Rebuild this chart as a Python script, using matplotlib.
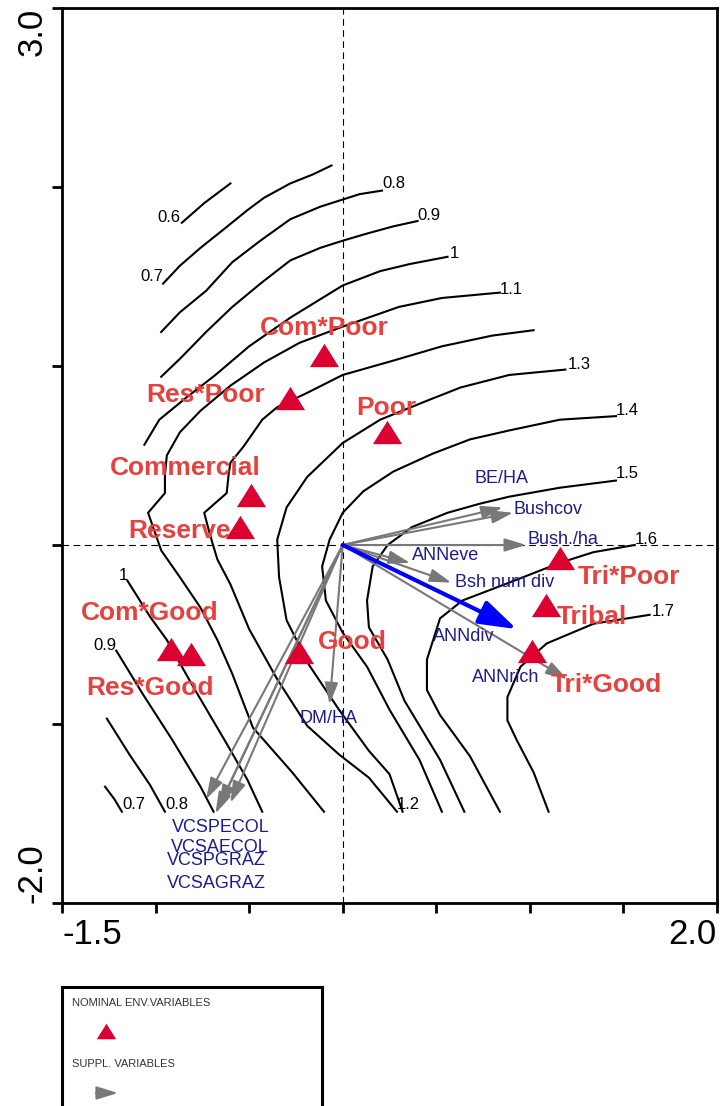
import matplotlib
matplotlib.use("Agg")
import matplotlib.pyplot as plt
import matplotlib.transforms as mtransforms

plt.rcParams['font.family'] = ['Liberation Sans', 'DejaVu Sans']

# ---- contour pieces of the fitted surface (ordination units) ----
c_06 = [(-0.86, 1.80), (-0.74, 1.91), (-0.60, 2.02)]
c_07_up = [(-0.96, 1.46), (-0.87, 1.56), (-0.76, 1.66), (-0.64, 1.76), (-0.51, 1.87),
           (-0.42, 1.94), (-0.28, 2.02), (-0.16, 2.07), (-0.06, 2.12)]
c_08_up = [(-0.97, 1.19), (-0.87, 1.30), (-0.73, 1.42), (-0.59, 1.58), (-0.44, 1.70),
           (-0.28, 1.82), (-0.12, 1.89), (0.00, 1.93), (0.09, 1.96), (0.21, 1.98)]
c_09_up = [(-0.97, 0.94), (-0.87, 1.04), (-0.73, 1.19), (-0.59, 1.33), (-0.44, 1.46),
           (-0.28, 1.59), (-0.12, 1.66), (0.00, 1.70), (0.13, 1.74), (0.27, 1.78), (0.40, 1.81)]
c_10_up = [(-1.06, 0.56), (-0.98, 0.70), (-0.84, 0.82), (-0.68, 0.95), (-0.50, 1.11),
           (-0.28, 1.27), (0.00, 1.45), (0.20, 1.53), (0.36, 1.57), (0.56, 1.61)]
c_11 = [(0.84, 1.41), (0.53, 1.38), (0.30, 1.33), (0.00, 1.22), (-0.23, 1.13), (-0.42, 1.02),
        (-0.60, 0.89), (-0.76, 0.75), (-0.87, 0.63), (-0.94, 0.50), (-0.95, 0.39), (-0.95, 0.29),
        (-1.04, 0.18), (-1.00, 0.06), (-0.97, -0.03), (-0.87, -0.18), (-0.76, -0.35),
        (-0.67, -0.53), (-0.59, -0.72), (-0.48, -1.02), (-0.27, -1.27), (-0.10, -1.49)]
c_12 = [(1.02, 1.20), (0.80, 1.17), (0.53, 1.11), (0.27, 1.03), (0.00, 0.95), (-0.19, 0.85),
        (-0.35, 0.77), (-0.43, 0.70), (-0.53, 0.55), (-0.60, 0.46), (-0.61, 0.39), (-0.62, 0.29),
        (-0.74, 0.18), (-0.71, 0.06), (-0.67, -0.08), (-0.60, -0.22), (-0.50, -0.47),
        (-0.35, -0.75), (-0.19, -1.01), (-0.02, -1.17), (0.14, -1.30), (0.29, -1.49)]
c_13 = [(1.19, 0.98), (0.89, 0.95), (0.63, 0.88), (0.46, 0.81), (0.20, 0.70), (0.00, 0.57),
        (-0.19, 0.38), (-0.30, 0.21), (-0.35, 0.03), (-0.34, -0.18), (-0.30, -0.42),
        (-0.18, -0.67), (-0.02, -0.92), (0.14, -1.15), (0.25, -1.28), (0.32, -1.49)]
c_14 = [(1.46, 0.72), (1.16, 0.70), (0.89, 0.64), (0.68, 0.59), (0.48, 0.51), (0.27, 0.41),
        (0.11, 0.30), (0.00, 0.18), (-0.07, 0.03), (-0.11, -0.12), (-0.09, -0.31),
        (0.00, -0.49), (0.13, -0.68), (0.25, -0.92), (0.41, -1.20), (0.53, -1.49)]
c_15 = [(1.46, 0.36), (1.16, 0.32), (0.89, 0.27), (0.73, 0.23), (0.56, 0.18), (0.37, 0.10),
        (0.24, 0.00), (0.16, -0.12), (0.13, -0.31), (0.14, -0.46), (0.24, -0.64),
        (0.33, -0.87), (0.52, -1.20), (0.65, -1.49)]
c_16 = [(1.56, 0.00), (1.34, -0.04), (1.16, -0.10), (0.89, -0.21), (0.64, -0.31), (0.52, -0.41),
        (0.45, -0.64), (0.45, -0.81), (0.52, -0.95), (0.68, -1.18), (0.84, -1.49)]
c_17 = [(1.64, -0.39), (1.34, -0.44), (1.09, -0.55), (0.95, -0.68), (0.88, -0.85),
        (0.88, -0.98), (0.93, -1.09), (1.02, -1.27), (1.10, -1.49)]
c_10_low = [(-1.15, -0.20), (-1.03, -0.40), (-0.94, -0.53), (-0.80, -0.79), (-0.62, -1.11),
            (-0.51, -1.31), (-0.43, -1.49)]
c_09_low = [(-1.21, -0.59), (-1.07, -0.83), (-0.91, -1.09), (-0.76, -1.35), (-0.69, -1.49)]
c_08_low = [(-1.26, -0.97), (-1.14, -1.17), (-1.03, -1.34), (-0.95, -1.49)]
c_07_low = [(-1.27, -1.35), (-1.22, -1.42), (-1.18, -1.49)]

contours = [c_06, c_07_up, c_08_up, c_09_up, c_10_up, c_11, c_12, c_13, c_14, c_15,
            c_16, c_17, c_10_low, c_09_low, c_08_low, c_07_low]

# contour labels: (x, y, text, alignment)
contour_labels = [
    (-0.87, 1.83, "0.6", "right"), (-0.96, 1.50, "0.7", "right"),
    (0.21, 2.02, "0.8", "left"), (0.40, 1.84, "0.9", "left"), (0.57, 1.63, "1", "left"),
    (0.84, 1.43, "1.1", "left"), (1.20, 1.01, "1.3", "left"), (1.46, 0.75, "1.4", "left"),
    (1.46, 0.40, "1.5", "left"), (1.56, 0.03, "1.6", "left"), (1.65, -0.37, "1.7", "left"),
    (0.29, -1.45, "1.2", "left"), (-0.95, -1.45, "0.8", "left"), (-1.18, -1.45, "0.7", "left"),
    (-1.15, -0.17, "1", "right"), (-1.21, -0.56, "0.9", "right"),
]

# ---- nominal environmental variables (centroids) ----
nom_names = ["Com*Poor", "Res*Poor", "Poor", "Commercial", "Reserve", "Com*Good",
             "Res*Good", "Good", "Tri*Poor", "Tribal", "Tri*Good"]
nom_x = [-0.10, -0.28, 0.235, -0.49, -0.55, -0.92, -0.81, -0.235, 1.16, 1.085, 1.01]
nom_y = [1.06, 0.82, 0.63, 0.28, 0.10, -0.58, -0.61, -0.60, -0.07, -0.335, -0.59]
nom_lab_x = [-0.10, -0.73, 0.235, -0.84, -0.87, -1.03, -1.03, 0.05, 1.53, 1.33, 1.41]
nom_lab_y = [1.21, 0.84, 0.765, 0.43, 0.08, -0.38, -0.80, -0.54, -0.18, -0.40, -0.78]

# ---- supplementary variables (arrows) ----
sup_names = ["BE/HA", "Bushcov", "Bush./ha", "ANNeve", "Bsh num div", "ANNrich", "DM/HA",
             "VCSPECOL", "VCSAECOL", "VCSPGRAZ", "VCSAGRAZ"]
sup_x = [0.855, 0.91, 0.98, 0.36, 0.58, 1.20, -0.07, -0.73, -0.68, -0.66, -0.60]
sup_y = [0.21, 0.18, 0.00, -0.10, -0.21, -0.75, -0.89, -1.42, -1.50, -1.46, -1.44]
sup_lab_x = [0.85, 0.91, 0.99, 0.37, 0.60, 0.69, -0.23, -0.91, -0.92, -0.94, -0.94]
sup_lab_y = [0.37, 0.20, 0.03, -0.06, -0.21, -0.74, -0.97, -1.58, -1.69, -1.76, -1.89]

# highlighted variable
div_name = "ANNdiv"
div_x, div_y = 0.93, -0.47
div_lab_x, div_lab_y = 0.48, -0.51

RED_TXT = "#E5413E"
RED_TRI = "#DC0030"
GREY = "#787878"
NAVY = "#1C1C8C"
tri = [(-1, -0.8), (1, -0.8), (0, 0.8)]

fig = plt.figure(figsize=(7.2, 11.06), dpi=100)
ax = fig.add_axes([62 / 720, 1 - 903 / 1106, 655 / 720, 895 / 1106])
ax.set_xlim(-1.5, 2.0)
ax.set_ylim(-2.0, 3.0)

ax.axvline(0, color="black", lw=0.8, ls=(0, (6, 4)), zorder=1)
ax.axhline(0, color="black", lw=0.8, ls=(0, (6, 4)), zorder=1)

for c in contours:
    xs, ys = zip(*c)
    ax.plot(xs, ys, color="black", lw=1.5, zorder=2)
for x, y, t, ha in contour_labels:
    ax.text(x, y, t, ha=ha, va="center", fontsize=12, color="black", zorder=3)

for i in range(len(sup_names)):
    ax.annotate("", xy=(sup_x[i], sup_y[i]), xytext=(0, 0),
                arrowprops=dict(arrowstyle="-|>,head_length=1.3,head_width=0.4",
                                color=GREY, lw=1.5, mutation_scale=10,
                                shrinkA=0, shrinkB=0), zorder=4)
    ax.text(sup_lab_x[i], sup_lab_y[i], sup_names[i], ha="center" if i == 0 else "left",
            va="center", fontsize=13, color=NAVY, zorder=6)

ax.annotate("", xy=(div_x, div_y), xytext=(0, 0),
            arrowprops=dict(arrowstyle="-|>,head_length=2.3,head_width=0.75",
                            color="#0000FF", lw=3, mutation_scale=10,
                            shrinkA=0, shrinkB=0), zorder=5)
ax.text(div_lab_x, div_lab_y, div_name, ha="left", va="center", fontsize=13,
        color=NAVY, zorder=6)

ax.plot(nom_x, nom_y, ls="none", marker=tri, markersize=21, color=RED_TRI,
        markeredgewidth=0, zorder=7)
for i, n in enumerate(nom_names):
    ax.text(nom_lab_x[i], nom_lab_y[i], n, ha="center", va="center", fontsize=19,
            fontweight="bold", color=RED_TXT, zorder=8)

# frame and ticks
for s in ax.spines.values():
    s.set_linewidth(2)
ax.set_xticks([-1.5, -1.0, -0.5, 0.0, 0.5, 1.0, 1.5, 2.0])
ax.set_yticks([-2, -1, 0, 1, 2, 3])
ax.tick_params(direction="out", length=7, width=2, labelleft=False, labelbottom=False)

tx = mtransforms.blended_transform_factory(ax.transData, ax.transAxes)
ty = mtransforms.blended_transform_factory(ax.transAxes, ax.transData)
ax.text(-1.5, -0.017, "-1.5", transform=tx, ha="left", va="top", fontsize=25)
ax.text(2.0, -0.017, "2.0", transform=tx, ha="right", va="top", fontsize=25)
ax.text(-0.02, 3.0, "3.0", transform=ty, ha="right", va="top", rotation=90, fontsize=25)
ax.text(-0.02, -2.0, "-2.0", transform=ty, ha="right", va="bottom", rotation=90, fontsize=25)

# legend box (runs off the bottom of the page)
lg = fig.add_axes([62 / 720, 1 - 1130 / 1106, 260 / 720, 143 / 1106])
lg.set_xlim(0, 260)
lg.set_ylim(143, 0)
lg.set_xticks([])
lg.set_yticks([])
for s in lg.spines.values():
    s.set_linewidth(2.2)
lg.text(10, 16, "NOMINAL ENV.VARIABLES", fontsize=8, color="#333333", va="center")
lg.plot([44], [44], ls="none", marker=tri, markersize=14, color=RED_TRI, markeredgewidth=0)
lg.text(10, 77, "SUPPL. VARIABLES", fontsize=8, color="#333333", va="center")
lg.annotate("", xy=(56, 106), xytext=(34, 106),
            arrowprops=dict(arrowstyle="-|>,head_length=1.3,head_width=0.4",
                            color=GREY, lw=1.5, mutation_scale=10, shrinkA=0, shrinkB=0))

fig.savefig("out.png", dpi=100)
